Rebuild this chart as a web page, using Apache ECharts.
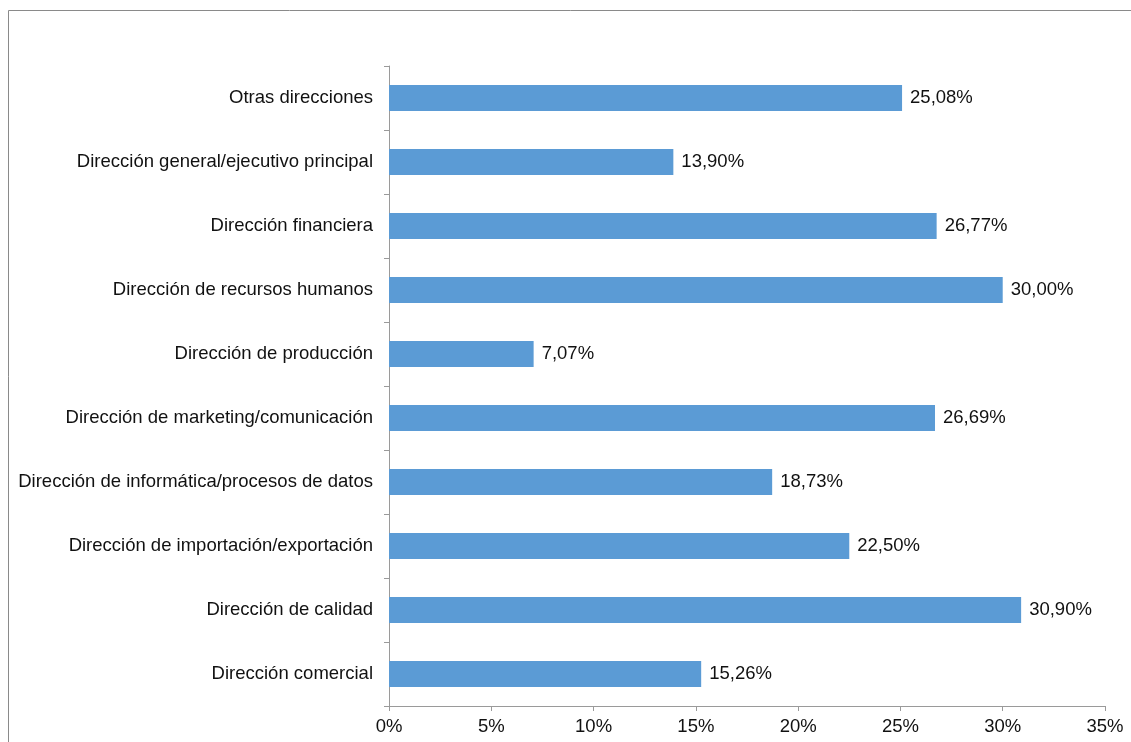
<!DOCTYPE html>
<html>
<head>
<meta charset="utf-8">
<script src="https://cdn.jsdelivr.net/npm/echarts@6/dist/echarts.min.js"></script>
<style>
  html, body { margin: 0; padding: 0; background: #fff; }
  #chart { width: 1131px; height: 742px; }
</style>
</head>
<body>
<div id="chart"></div>
<script>
// categorias de abajo hacia arriba (el eje Y de echarts empieza abajo)
const categories = [
  'Dirección comercial',
  'Dirección de calidad',
  'Dirección de importación/exportación',
  'Dirección de informática/procesos de datos',
  'Dirección de marketing/comunicación',
  'Dirección de producción',
  'Dirección de recursos humanos',
  'Dirección financiera',
  'Dirección general/ejecutivo principal',
  'Otras direcciones'
];
const values = [15.26, 30.90, 22.50, 18.73, 26.69, 7.07, 30.00, 26.77, 13.90, 25.08];

const xTicks = [0, 5, 10, 15, 20, 25, 30, 35];

const chart = echarts.init(document.getElementById('chart'));

const axisGray = '#9a9a9a';
const font = 'Arial, "Liberation Sans", sans-serif';

chart.setOption({
  animation: false,
  // marco gris alrededor del gráfico
  graphic: [{
    type: 'rect',
    shape: { x: 8.5, y: 10.5, width: 1200, height: 900 },
    style: { fill: 'none', stroke: '#8a8a8a', lineWidth: 1 },
    silent: true
  }],
  grid: { left: 389, top: 66, right: 26, bottom: 36 },
  xAxis: {
    type: 'value',
    min: xTicks[0],
    max: xTicks[xTicks.length - 1],
    interval: 5,
    splitLine: { show: false },
    axisLine: { show: true, lineStyle: { color: axisGray } },
    axisTick: { show: true, length: 5, lineStyle: { color: axisGray } },
    axisLabel: {
      formatter: '{value}%',
      color: '#111',
      fontSize: 18.5,
      fontFamily: font,
      margin: 11
    }
  },
  yAxis: {
    type: 'category',
    data: categories,
    axisLine: { show: true, lineStyle: { color: axisGray } },
    axisTick: { show: true, length: 5, lineStyle: { color: axisGray } },
    axisLabel: {
      color: '#111',
      fontSize: 18.5,
      fontFamily: font,
      margin: 16
    }
  },
  series: [{
    type: 'bar',
    data: values,
    barWidth: 26,
    itemStyle: { color: '#5b9bd5' },
    label: {
      show: true,
      position: 'right',
      distance: 8,
      color: '#111',
      fontSize: 18.5,
      fontFamily: font,
      formatter: p => p.value.toFixed(2).replace('.', ',') + '%'
    }
  }]
});
</script>
</body>
</html>
